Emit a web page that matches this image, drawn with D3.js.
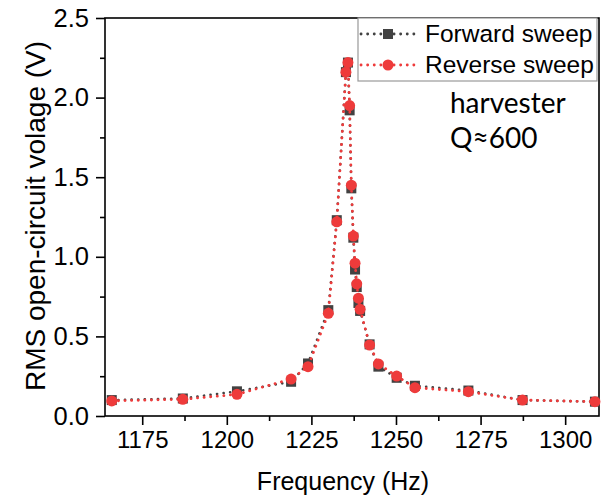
<!DOCTYPE html>
<html>
<head>
<meta charset="utf-8">
<script src="https://cdn.jsdelivr.net/npm/d3@7"></script>
<style>
  body { margin: 0; background: #fff; }
  svg { font-family: "Liberation Sans", Arial, sans-serif; }
</style>
</head>
<body>
<div id="chart"></div>
<script>
var width = 607, height = 500
var margin = { left: 105, right: 8, top: 18, bottom: 84 }

// data (Hz, V rms)
var freq = [1166, 1187, 1203, 1219, 1224, 1230, 1232.5, 1235.2, 1235.8, 1236.3, 1236.8, 1237.4,
  1237.9, 1238.4, 1238.9, 1239.4, 1242.2, 1244.8, 1250.2, 1255.6, 1271.4, 1287.4, 1308.8]
var forwardV = [0.10, 0.11, 0.155, 0.215, 0.33, 0.665, 1.23, 2.16, 2.22, 1.92, 1.43, 1.12,
  0.92, 0.81, 0.71, 0.66, 0.45, 0.31, 0.24, 0.19, 0.16, 0.10, 0.09]
var reverseV = [0.095, 0.105, 0.136, 0.232, 0.31, 0.645, 1.22, 2.16, 2.22, 1.95, 1.45, 1.13,
  0.96, 0.83, 0.74, 0.67, 0.446, 0.327, 0.251, 0.178, 0.153, 0.10, 0.09]
var xTicks = [1175, 1200, 1225, 1250, 1275, 1300]
var xMinor = [1187.5, 1212.5, 1237.5, 1262.5, 1287.5]
var yTicks = [0, 0.5, 1.0, 1.5, 2.0, 2.5]
var yMinor = [0.25, 0.75, 1.25, 1.75, 2.25]

var svg = d3.select("#chart").append("svg")
  .attr("width", width)
  .attr("height", height)

var x = d3.scaleLinear().domain([1164, 1310]).range([margin.left, width - margin.right])
var y = d3.scaleLinear().domain([0, 2.5]).range([height - margin.bottom, margin.top])

// frame
svg.append("rect")
  .attr("x", x.range()[0]).attr("y", y.range()[1])
  .attr("width", x.range()[1] - x.range()[0])
  .attr("height", y.range()[0] - y.range()[1])
  .attr("fill", "none").attr("stroke", "#000").attr("stroke-width", 1.6)

// axes
svg.append("g")
  .attr("transform", "translate(0," + y.range()[0] + ")")
  .call(d3.axisBottom(x).tickValues(xTicks).tickFormat(d3.format("d")).tickSize(9).tickPadding(6))
svg.append("g")
  .attr("transform", "translate(0," + y.range()[0] + ")")
  .call(d3.axisBottom(x).tickValues(xMinor).tickFormat("").tickSize(5))
var yAxis = svg.append("g")
  .attr("transform", "translate(" + x.range()[0] + ",0)")
  .call(d3.axisLeft(y).tickValues(yTicks).tickFormat(d3.format(".1f")).tickSize(9).tickPadding(7))
svg.append("g")
  .attr("transform", "translate(" + x.range()[0] + ",0)")
  .call(d3.axisLeft(y).tickValues(yMinor).tickFormat("").tickSize(5))

svg.selectAll(".domain").remove()
svg.selectAll(".tick line").attr("stroke", "#000").attr("stroke-width", 1.6)
svg.selectAll(".tick text").attr("fill", "#000").style("font-size", "24px")
  .style("font-family", "'Liberation Sans', Arial, sans-serif")
yAxis.selectAll(".tick text").style("font-size", "25.5px")

// axis titles
svg.append("text")
  .attr("x", 343)
  .attr("y", 490)
  .attr("text-anchor", "middle")
  .style("font-size", "25px")
  .text("Frequency (Hz)")

svg.append("text")
  .attr("transform", "translate(45," + ((y.range()[0] + y.range()[1]) / 2 - 1) + ") rotate(-90)")
  .attr("text-anchor", "middle")
  .style("font-size", "28px")
  .text("RMS open-circuit volage (V)")

var forward = freq.map(function (f, i) { return { f: f, v: forwardV[i] } })
var reverse = freq.map(function (f, i) { return { f: f, v: reverseV[i] } })

var line = d3.line()
  .x(function (d) { return x(d.f) })
  .y(function (d) { return y(d.v) })

var grey = "#424242", red = "#ee3b3b"

svg.append("path")
  .datum(forward)
  .attr("d", line)
  .attr("fill", "none")
  .attr("stroke", grey)
  .attr("stroke-width", 2.6)
  .attr("stroke-linecap", "round")
  .attr("stroke-dasharray", "0.1 6.5")

svg.append("g").selectAll("rect")
  .data(forward)
  .enter()
  .append("rect")
  .attr("x", function (d) { return x(d.f) - 5 })
  .attr("y", function (d) { return y(d.v) - 5 })
  .attr("width", 10).attr("height", 10)
  .attr("fill", grey)

svg.append("path")
  .datum(reverse)
  .attr("d", line)
  .attr("fill", "none")
  .attr("stroke", red)
  .attr("stroke-width", 2.8)
  .attr("stroke-linecap", "round")
  .attr("stroke-dasharray", "0.1 6.5")

svg.append("g").selectAll("circle")
  .data(reverse)
  .enter()
  .append("circle")
  .attr("cx", function (d) { return x(d.f) })
  .attr("cy", function (d) { return y(d.v) })
  .attr("r", 5.5)
  .attr("fill", red)

// legend
var legend = svg.append("g")
legend.append("rect")
  .attr("x", 358).attr("y", 18)
  .attr("width", 239).attr("height", 63)
  .attr("fill", "#fff").attr("stroke", "#999").attr("stroke-width", 1.2)

var legendItems = [
  { name: "Forward sweep", color: grey, shape: "square" },
  { name: "Reverse sweep", color: red, shape: "circle" }
]
legendItems.forEach(function (item, i) {
  var ly = 34 + i * 31
  legend.append("line")
    .attr("x1", 361).attr("x2", 416).attr("y1", ly).attr("y2", ly)
    .attr("stroke", item.color).attr("stroke-width", 2.8)
    .attr("stroke-linecap", "round").attr("stroke-dasharray", "0.1 6.5")
  if (item.shape === "square") {
    legend.append("rect").attr("x", 383).attr("y", ly - 5).attr("width", 10).attr("height", 10)
      .attr("fill", item.color)
  } else {
    legend.append("circle").attr("cx", 388).attr("cy", ly).attr("r", 5.5).attr("fill", item.color)
  }
  legend.append("text")
    .attr("x", 425).attr("y", ly + 8)
    .style("font-size", "24.5px")
    .text(item.name)
})

// annotation
svg.append("text")
  .attr("x", 450).attr("y", 113)
  .style("font-family", "Lato, 'Open Sans', sans-serif")
  .style("font-size", "28px")
  .text("harvester")
svg.append("text")
  .attr("x", 450).attr("y", 148)
  .style("font-family", "Lato, 'Open Sans', sans-serif")
  .style("font-size", "28px")
  .text("Q≈600")
</script>
</body>
</html>
